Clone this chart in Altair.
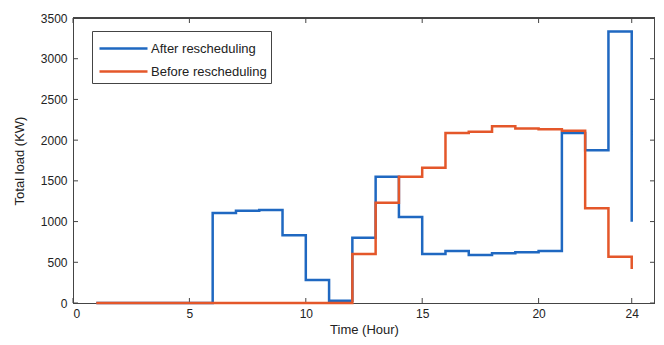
import altair as alt
import pandas as pd

hours = list(range(1, 25))
after_vals = [0, 0, 0, 0, 0, 1105, 1134, 1142, 831, 282, 28, 802, 1551, 1056,
              602, 640, 588, 612, 622, 640, 2088, 1876, 3333, 998]
before_vals = [0, 0, 0, 0, 0, 0, 0, 0, 0, 0, 0, 602, 1232, 1551, 1662, 2088,
               2104, 2172, 2143, 2133, 2116, 1165, 569, 417]
series_names = ["After rescheduling", "Before rescheduling"]
series_colors = ["#1f68c1", "#e4572a"]
x_ticks = [0, 5, 10, 15, 20, 24]
y_ticks = [0, 500, 1000, 1500, 2000, 2500, 3000, 3500]

df = pd.DataFrame({
    "hour": hours + hours,
    "load": after_vals + before_vals,
    "series": [series_names[0]] * len(hours) + [series_names[1]] * len(hours),
})

W, H = 582, 285
xs = alt.Scale(domain=[0, 25], nice=False)
ys = alt.Scale(domain=[0, 3500], nice=False)

lines = alt.Chart(df).mark_line(interpolate="step-after", strokeWidth=2.5).encode(
    x=alt.X("hour:Q", scale=xs, title="Time (Hour)",
            axis=alt.Axis(values=x_ticks, ticks=False, labelPadding=5, titlePadding=4, grid=False)),
    y=alt.Y("load:Q", scale=ys, title="Total load (KW)",
            axis=alt.Axis(values=y_ticks, ticks=False, labelPadding=6, titlePadding=14, format="d", grid=False)),
    color=alt.Color("series:N", scale=alt.Scale(domain=series_names, range=series_colors),
                    legend=alt.Legend(title=None, orient="none", legendX=19, legendY=13,
                                      strokeColor="#444", fillColor="white", padding=4,
                                      symbolType="M-2,0H2", symbolSize=576, symbolStrokeWidth=2.5,
                                      symbolOffset=14, labelOffset=14,
                                      labelFontSize=13, rowPadding=2,
                                      labelExpr="datum.label + '\u00a0\u00a0\u00a0\u00a0\u00a0\u00a0'")),
    order=alt.Order("series:N"),
)

xt = pd.DataFrame({"t": x_ticks})
yt = pd.DataFrame({"t": y_ticks})
tick_col = "#444"
xb = alt.Chart(xt).mark_rule(color=tick_col, strokeWidth=1).encode(
    x=alt.X("t:Q", scale=xs), y=alt.value(H), y2=alt.value(H - 5))
xtop = alt.Chart(xt).mark_rule(color=tick_col, strokeWidth=1).encode(
    x=alt.X("t:Q", scale=xs), y=alt.value(0), y2=alt.value(5))
yl = alt.Chart(yt).mark_rule(color=tick_col, strokeWidth=1).encode(
    y=alt.Y("t:Q", scale=ys), x=alt.value(0), x2=alt.value(5))
yr = alt.Chart(yt).mark_rule(color=tick_col, strokeWidth=1).encode(
    y=alt.Y("t:Q", scale=ys), x=alt.value(W), x2=alt.value(W - 5))
frame_top = alt.Chart(xt).mark_rule(color=tick_col, strokeWidth=1).encode(
    x=alt.value(0), x2=alt.value(W), y=alt.value(0))
frame_right = alt.Chart(xt).mark_rule(color=tick_col, strokeWidth=1).encode(
    x=alt.value(W), y=alt.value(0), y2=alt.value(H))

chart = alt.layer(xb, xtop, yl, yr, frame_top, frame_right, lines).properties(
    width=W, height=H, autosize=alt.AutoSizeParams(type="none"),
    padding={"left": 65, "top": 10, "right": 0, "bottom": 36},
).configure_view(stroke="#444", strokeWidth=1).configure_axis(
    labelFont="Liberation Sans", titleFont="Liberation Sans", labelFontSize=12,
    titleFontSize=13, titleFontWeight="normal", labelColor="#222", titleColor="#222",
    domainColor="#444",
).configure_legend(labelFont="Liberation Sans", labelColor="#222")

chart.save("out.html", embed_options={"renderer": "svg", "actions": False})
